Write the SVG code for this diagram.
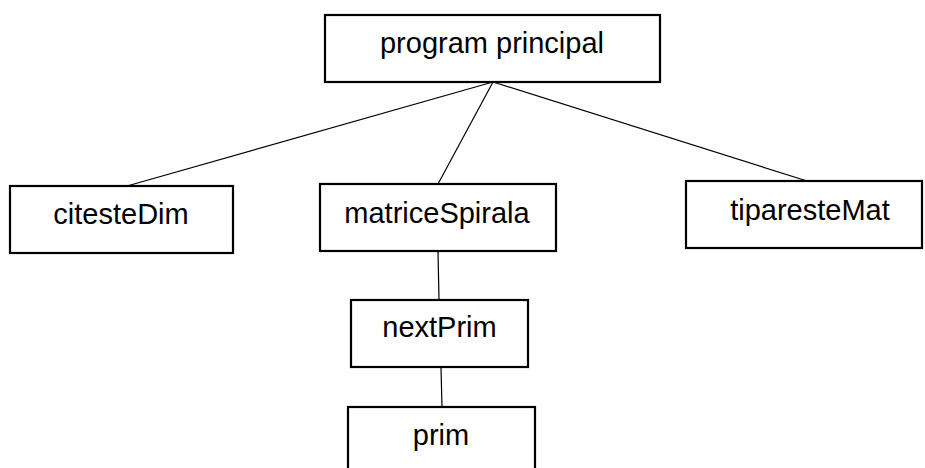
<svg xmlns="http://www.w3.org/2000/svg" width="925" height="468" viewBox="0 0 925 468">
<style>
.box{fill:#fff;stroke:#000;stroke-width:2.2}
.lbl{font-family:"Liberation Sans",Arial,sans-serif;font-size:29px;fill:#000;text-anchor:middle}
.edge{stroke:#000;stroke-width:1.2;fill:none}
</style>
<rect width="925" height="468" fill="#fff"/>
<g id="connectors">
<line class="edge" x1="493" y1="82" x2="127" y2="186"/>
<line class="edge" x1="493" y1="82" x2="438" y2="184"/>
<line class="edge" x1="493" y1="82" x2="807" y2="181"/>
<line class="edge" x1="438" y1="252" x2="439" y2="300"/>
<line class="edge" x1="441" y1="368" x2="442" y2="407"/>
</g>
<g id="program-principal">
<rect class="box" x="325" y="15" width="335" height="67"/>
<text class="lbl" x="492" y="53">program principal</text>
</g>
<g id="citesteDim">
<rect class="box" x="10" y="186" width="223" height="67"/>
<text class="lbl" x="121" y="224">citesteDim</text>
</g>
<g id="matriceSpirala">
<rect class="box" x="320" y="184" width="236" height="67"/>
<text class="lbl" x="437" y="223">matriceSpirala</text>
</g>
<g id="tiparesteMat">
<rect class="box" x="686" y="181" width="236" height="67"/>
<text class="lbl" x="810" y="220">tiparesteMat</text>
</g>
<g id="nextPrim">
<rect class="box" x="351" y="300" width="177" height="67"/>
<text class="lbl" x="439.5" y="337">nextPrim</text>
</g>
<g id="prim">
<rect class="box" x="348" y="407" width="187" height="70"/>
<text class="lbl" x="441" y="445">prim</text>
</g>
</svg>
